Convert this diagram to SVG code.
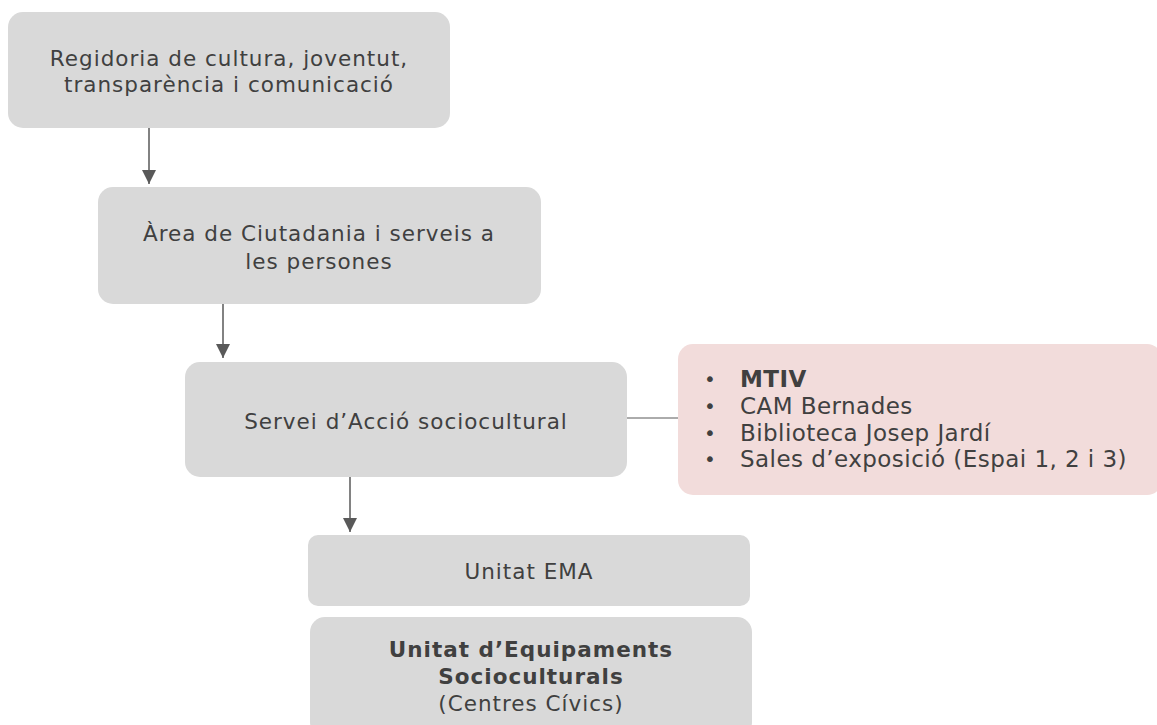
<svg xmlns="http://www.w3.org/2000/svg" width="1157" height="725" viewBox="0 0 1157 725">
<defs>
<style>
.box{fill:#d9d9d9}
.pink{fill:#f2dcdb}
text{font-family:"DejaVu Sans",sans-serif;font-size:21.5px;letter-spacing:1px;fill:#404040}
.c{text-anchor:middle}
.b{font-weight:bold}
.li{font-size:23px;letter-spacing:0.45px}
.dot{font-size:20px}
.conn{stroke:#595959;stroke-width:1.5;fill:none}
</style>
<marker id="ah" markerWidth="14" markerHeight="14" viewBox="0 0 14 14" refX="14" refY="7" orient="auto" markerUnits="userSpaceOnUse">
<path d="M0,0 L14,7 L0,14 Z" fill="#595959"/>
</marker>
</defs>
<rect width="1157" height="725" fill="#ffffff"/>
<g id="connectors">
<line class="conn" x1="149" y1="128" x2="149" y2="184" marker-end="url(#ah)"/>
<line class="conn" x1="223" y1="304" x2="223" y2="358" marker-end="url(#ah)"/>
<line class="conn" x1="350" y1="477" x2="350" y2="532" marker-end="url(#ah)"/>
<line class="conn" x1="627" y1="418" x2="678" y2="418" style="stroke-width:1"/>
</g>
<g id="node-regidoria">
<rect class="box" x="8" y="12" width="442" height="116" rx="15"/>
<text class="c" x="229" y="66">Regidoria de cultura, joventut,</text>
<text class="c" x="229" y="92">transparència i comunicació</text>
</g>
<g id="node-area">
<rect class="box" x="98" y="187" width="443" height="117" rx="15"/>
<text class="c" x="319" y="241">Àrea de Ciutadania i serveis a</text>
<text class="c" x="319" y="269">les persones</text>
</g>
<g id="node-servei">
<rect class="box" x="185" y="362" width="442" height="115" rx="15"/>
<text class="c" x="406" y="429">Servei d’Acció sociocultural</text>
</g>
<g id="node-equipaments-list">
<rect class="pink" x="678" y="344" width="484" height="151" rx="15"/>
<text class="li dot" x="704" y="386">•</text><text class="li b" x="740" y="387">MTIV</text>
<text class="li dot" x="704" y="413">•</text><text class="li" x="740" y="414">CAM Bernades</text>
<text class="li dot" x="704" y="440">•</text><text class="li" x="740" y="441">Biblioteca Josep Jardí</text>
<text class="li dot" x="704" y="466">•</text><text class="li" x="740" y="467">Sales d’exposició (Espai 1, 2 i 3)</text>
</g>
<g id="node-ema">
<rect class="box" x="308" y="535" width="442" height="71" rx="10"/>
<text class="c" x="529" y="579">Unitat EMA</text>
</g>
<g id="node-equipaments">
<rect class="box" x="310" y="617" width="442" height="120" rx="15"/>
<text class="c b" x="531" y="657">Unitat d’Equipaments</text>
<text class="c b" x="531" y="684">Socioculturals</text>
<text class="c" x="531" y="711">(Centres Cívics)</text>
</g>
</svg>
